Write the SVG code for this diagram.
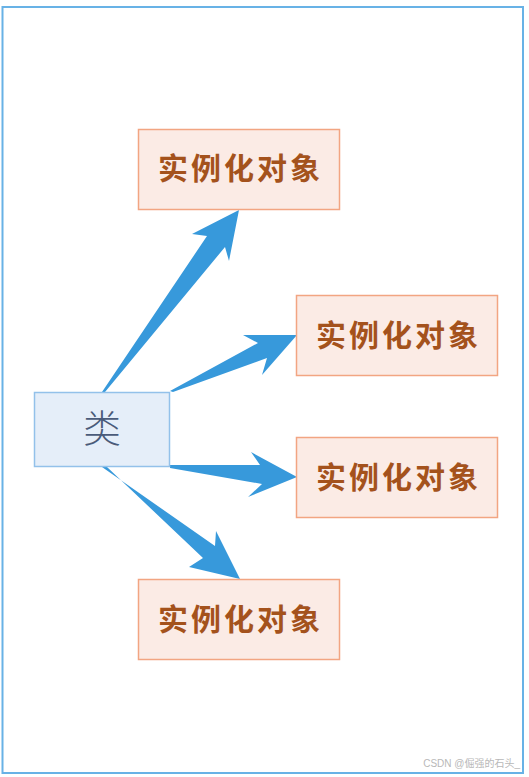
<svg xmlns="http://www.w3.org/2000/svg" width="529" height="777" viewBox="0 0 529 777">
<style>
.obj rect{fill:#fbebe5;stroke:#f2a582;stroke-width:1.5}
.obj text{font-family:"Noto Sans CJK SC","Noto Sans CJK TC",sans-serif;font-weight:700;font-size:30px;fill:#a4521c;text-anchor:middle;letter-spacing:3px}
.cls rect{fill:#e5eef9;stroke:#93c1ea;stroke-width:1.5}
.cls text{font-family:"Noto Sans CJK SC",sans-serif;font-weight:300;font-size:38px;fill:#4a5b7a;text-anchor:middle}
.arrow{fill:#3799db}
</style>
<rect width="529" height="777" fill="#ffffff"/>
<rect x="2.5" y="7" width="520.5" height="766" fill="none" stroke="#68b2e6" stroke-width="2"/>
<g id="connectors">
<path class="arrow" d="M102,392 L207,236 L192,234 L239,210 L229,261 L225,247 L105,392 Z"/>
<path class="arrow" d="M170,391 L258,343 L243,335 L297,335 L262,375 L267,358 L173,392 Z"/>
<path class="arrow" d="M170,465 L260,465 L251,452 L297,477 L248,497 L262,484 L170,468 Z"/>
<path class="arrow" d="M102,467 L215,546 L216,531 L240,579 L189,567 L203,558 L107,467 Z"/>
</g>
<g id="class" class="cls">
<rect x="34.5" y="392.5" width="135" height="74"/>
<text x="102" y="442">类</text>
</g>
<g id="obj1" class="obj">
<rect x="138.5" y="129.5" width="201" height="80"/>
<text x="240.5" y="179">实例化对象</text>
</g>
<g id="obj2" class="obj">
<rect x="296.5" y="295.5" width="201" height="80"/>
<text x="398.5" y="346">实例化对象</text>
</g>
<g id="obj3" class="obj">
<rect x="296.5" y="437.5" width="201" height="80"/>
<text x="398.5" y="488">实例化对象</text>
</g>
<g id="obj4" class="obj">
<rect x="138.5" y="579.5" width="201" height="80"/>
<text x="240.5" y="630">实例化对象</text>
</g>
<text x="520" y="767" font-family="'Liberation Sans','Noto Sans CJK SC',sans-serif" font-size="10" fill="#b8b8b8" text-anchor="end">CSDN @倔强的石头_</text>
</svg>
